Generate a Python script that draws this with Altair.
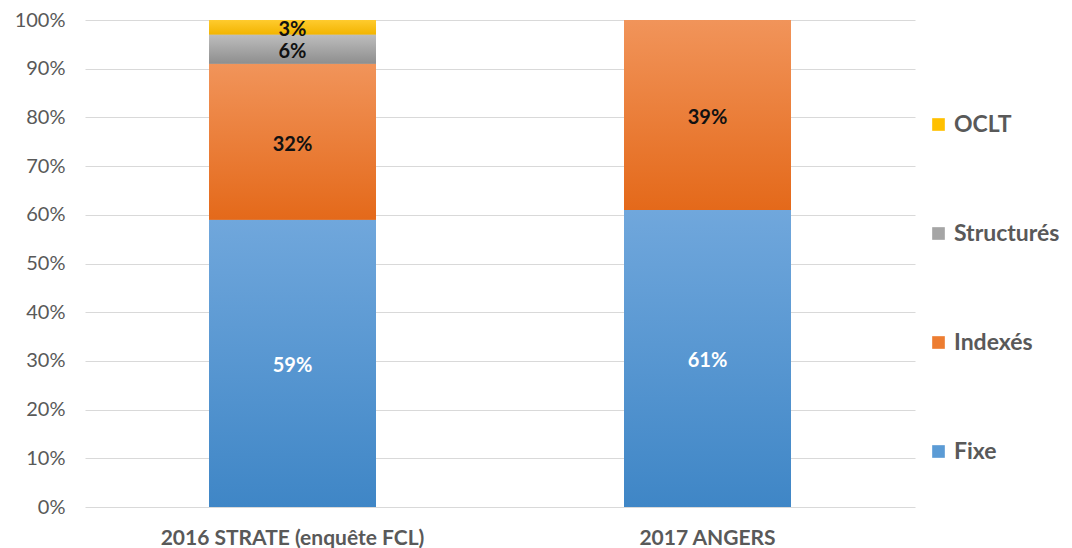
import altair as alt
import pandas as pd

# Loan structure shares (%) per source
categories = ["2016 STRATE (enquête FCL)", "2016 STRATE (enquête FCL)", "2016 STRATE (enquête FCL)",
              "2016 STRATE (enquête FCL)", "2017 ANGERS", "2017 ANGERS"]
series = ["Fixe", "Indexés", "Structurés", "OCLT", "Fixe", "Indexés"]
values = [59, 32, 6, 3, 61, 39]

series_order = ["Fixe", "Indexés", "Structurés", "OCLT"]
legend_order = ["OCLT", "Structurés", "Indexés", "Fixe"]
base_colors = {"OCLT": "#ffc000", "Structurés": "#a5a5a5", "Indexés": "#ed7d31", "Fixe": "#5b9bd5"}
gradients = {
    "Fixe": ("#70a7dc", "#3f86c6"),
    "Indexés": ("#f1945a", "#e4691a"),
    "Structurés": ("#bdbdbd", "#8e8e8e"),
    "OCLT": ("#ffcb2e", "#f2b400"),
}

df = pd.DataFrame({
    "cat": categories,
    "series": series,
    "value": [v / 100 for v in values],
    "rank": [series_order.index(s) for s in series],
})

FONT = "Lato"
GREY = "#595959"

base = alt.Chart(df).transform_stack(
    stack="value", as_=["y0", "y1"], groupby=["cat"],
    sort=[alt.SortField("rank", order="ascending")],
)

x_enc = alt.X("cat:N", title=None, sort=["2016 STRATE (enquête FCL)", "2017 ANGERS"],
              scale=alt.Scale(paddingInner=0, paddingOuter=0),
              axis=alt.Axis(labelAngle=0, labelFontSize=21, labelFontWeight="bold",
                            labelColor=GREY, labelFont=FONT, ticks=False, domain=False,
                            labelPadding=20, labelLimit=0))
y_enc = alt.Y("y0:Q", title=None,
              scale=alt.Scale(domain=[0, 1], nice=False),
              axis=alt.Axis(format="%", values=[i / 10 for i in range(11)],
                            labelFontSize=20, labelColor=GREY, labelFont=FONT,
                            ticks=False, domain=False, labelPadding=20,
                            gridColor="#d9d9d9", gridWidth=1.2))

BAR_W = 167

# solid layer carries the legend
legend_layer = base.mark_bar(size=BAR_W).encode(
    x=x_enc, y=y_enc, y2="y1:Q",
    color=alt.Color("series:N", scale=alt.Scale(domain=legend_order,
                                                 range=[base_colors[s] for s in legend_order]),
                    legend=alt.Legend(title=None, orient="none", legendX=842, legendY=93,
                                      symbolType="square", symbolSize=160, symbolStrokeWidth=0,
                                      labelFontSize=23, labelFontWeight="bold", labelColor=GREY,
                                      labelFont=FONT, rowPadding=85, labelOffset=4)),
)

# shaded segments, lighter at the top of each block
grad_layers = []
for s in series_order:
    top, bottom = gradients[s]
    grad_layers.append(
        base.transform_filter(alt.datum.series == s).mark_bar(
            size=BAR_W,
            color=alt.Gradient(gradient="linear",
                               stops=[alt.GradientStop(color=top, offset=0),
                                      alt.GradientStop(color=bottom, offset=1)],
                               x1=0, x2=0, y1=0, y2=1),
        ).encode(x=x_enc, y=alt.Y("y0:Q"), y2="y1:Q")
    )

labels = base.transform_calculate(mid="(datum.y0 + datum.y1) / 2").mark_text(
    font=FONT, fontSize=20, fontWeight="bold", baseline="middle", align="center", dy=3,
).encode(
    x=x_enc,
    y=alt.Y("mid:Q"),
    text=alt.Text("value:Q", format=".0%"),
    color=alt.condition(alt.datum.series == "Fixe", alt.value("#ffffff"), alt.value("#111111")),
)

chart = alt.layer(legend_layer, *grad_layers, labels).properties(
    width=830, height=487,
    autosize=alt.AutoSizeParams(type="none"),
    padding={"left": 85, "top": 20, "right": 157, "bottom": 41},
    background="#ffffff",
).configure_view(stroke=None)

chart.save("out.html", embed_options={"renderer": "svg", "actions": False})
